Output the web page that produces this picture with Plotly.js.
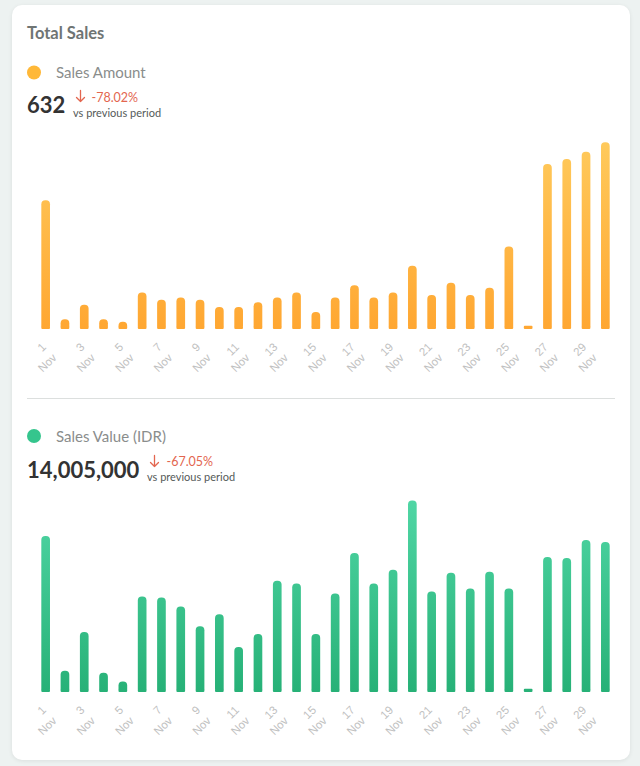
<!DOCTYPE html>
<html>
<head>
<meta charset="utf-8">
<script src="https://cdn.plot.ly/plotly-3.0.1.min.js"></script>
<style>
  html, body { margin: 0; padding: 0; width: 640px; height: 766px; overflow: hidden; background: #edf2f1; }
  .card { position: absolute; left: 12px; top: 5px; width: 618px; height: 755px; background: #ffffff;
          border-radius: 10px; box-shadow: 0 1px 4px rgba(0,0,0,0.08); }
  #header { position: absolute; left: 0; top: 0; width: 640px; height: 766px; pointer-events: none; }
  .chart { position: absolute; left: 0; width: 640px; }
  #amountChart { top: 120px; height: 260px; }
  #valueChart { top: 480px; height: 280px; }
</style>
</head>
<body>
<div class="card"></div>

<svg id="header" xmlns="http://www.w3.org/2000/svg" width="640" height="766">
  <g font-family="Lato, 'Open Sans', sans-serif">
    <text x="27" y="39" font-size="16.5" font-weight="700" fill="#6f7574">Total Sales</text>

    <!-- Sales Amount block -->
    <circle cx="34" cy="72.5" r="7" fill="#ffb838"/>
    <text x="56" y="78" font-size="15" fill="#8a8d8c">Sales Amount</text>
    <text x="27" y="113.3" font-size="22" font-weight="700" fill="#333333">632</text>
    <g stroke="#e3664f" stroke-width="1.3" fill="none" stroke-linecap="round" stroke-linejoin="round">
      <path d="M80.5 90.5 V101.5 M76.5 97.5 L80.5 101.5 L84.5 97.5"/>
    </g>
    <text x="91.5" y="102" font-size="12.5" fill="#e3664f">-78.02%</text>
    <text x="73" y="116.7" font-size="11" fill="#555a59">vs previous period</text>

    <line x1="27" y1="398.5" x2="615" y2="398.5" stroke="#dcdfde" stroke-width="1"/>

    <!-- Sales Value block -->
    <circle cx="34" cy="436" r="7" fill="#35c58d"/>
    <text x="56" y="441.5" font-size="15" fill="#8a8d8c">Sales Value (IDR)</text>
    <text x="27" y="478.3" font-size="22" font-weight="700" fill="#333333">14,005,000</text>
    <g stroke="#e3664f" stroke-width="1.3" fill="none" stroke-linecap="round" stroke-linejoin="round">
      <path d="M154.5 455.5 V466.5 M150.5 462.5 L154.5 466.5 L158.5 462.5"/>
    </g>
    <text x="166.5" y="465.5" font-size="12.5" fill="#e3664f">-67.05%</text>
    <text x="147" y="481" font-size="11" fill="#555a59">vs previous period</text>
  </g>
</svg>

<div id="amountChart" class="chart"></div>
<div id="valueChart" class="chart"></div>

<script>
// Days of November shown on the x axis
const days = [1, 2, 3, 4, 5, 6, 7, 8, 9, 10, 11, 12, 13, 14, 15,
              16, 17, 18, 19, 20, 21, 22, 23, 24, 25, 26, 27, 28, 29, 30];
const tickDays = [1, 3, 5, 7, 9, 11, 13, 15, 17, 19, 21, 23, 25, 27, 29];
const tickMonth = 'Nov';

// Daily number of sales
const salesAmount = [52, 3, 9, 3, 2, 14, 11, 12, 11, 8, 8, 10, 12, 14, 6,
                     12, 17, 12, 14, 25, 13, 18, 13, 16, 33, 0, 67, 69, 72, 76];

// Daily sales value in IDR
const salesValue = [775000, 95000, 290000, 85000, 40000, 470000, 465000, 420000, 320000, 380000,
                    215000, 280000, 550000, 535000, 280000, 485000, 690000, 535000, 605000, 955000,
                    495000, 590000, 510000, 595000, 510000, 0, 670000, 665000, 755000, 745000];

const tickText = tickDays.map(d => d + '<br>' + tickMonth);

// Draws one rounded-bar chart. A short companion bar hanging below zero rounds the foot of each bar.
function drawBars(divId, values, yMax, plotHeight, marginB, totalHeight, colors) {
  const footPx = 2.5;
  const overlapPx = 0.8;
  const unitsPerPx = yMax / (plotHeight - footPx);
  const foot = footPx * unitsPerPx;
  const overlap = overlapPx * unitsPerPx;

  const barStyle = { color: colors[1], cornerradius: '50%' };
  const traces = [
    { type: 'bar', x: days, y: values, marker: barStyle, hoverinfo: 'skip' },
    { type: 'bar', x: days, y: values.map(() => -(foot + overlap)), base: overlap,
      marker: barStyle, hoverinfo: 'skip' }
  ];

  const layout = {
    width: 640, height: totalHeight,
    margin: { l: 36, r: 25, t: 10, b: marginB },
    paper_bgcolor: 'rgba(0,0,0,0)', plot_bgcolor: 'rgba(0,0,0,0)',
    barmode: 'overlay', bargap: 0.55, showlegend: false,
    xaxis: {
      range: [0.5, 30.5], tickmode: 'array', tickvals: tickDays, ticktext: tickText,
      tickangle: -45, showgrid: false, zeroline: false, showline: false, ticks: '',
      ticklabelstandoff: 8, ticklabelshift: -3,
      tickfont: { family: 'Liberation Sans, Arial, sans-serif', size: 11.5, color: '#bfc1c1' }
    },
    yaxis: { range: [-foot, yMax], visible: false, showgrid: false, zeroline: false }
  };

  return Plotly.newPlot(divId, traces, layout, { staticPlot: true, displayModeBar: false })
    .then(gd => {
      // vertical colour ramp over the plot area, lighter towards the top
      const ns = 'http://www.w3.org/2000/svg';
      const h = gd._fullLayout._size.h;
      const svg = gd.querySelector('svg.main-svg');
      const defs = svg.querySelector('defs');
      const grad = document.createElementNS(ns, 'linearGradient');
      const gid = divId + '-ramp';
      grad.setAttribute('id', gid);
      grad.setAttribute('gradientUnits', 'userSpaceOnUse');
      grad.setAttribute('x1', 0); grad.setAttribute('x2', 0);
      grad.setAttribute('y1', 0); grad.setAttribute('y2', h);
      [[0, colors[0]], [1, colors[1]]].forEach(([o, c]) => {
        const s = document.createElementNS(ns, 'stop');
        s.setAttribute('offset', o);
        s.setAttribute('stop-color', c);
        grad.appendChild(s);
      });
      defs.appendChild(grad);
      gd.querySelectorAll('.barlayer .point path').forEach(p => { p.style.fill = 'url(#' + gid + ')'; });
    });
}

drawBars('amountChart', salesAmount, 81, 199, 51, 260, ['#ffcc5e', '#ffa732']);
drawBars('valueChart', salesValue, 1008000, 202, 68, 280, ['#52d8a7', '#27b177']);
</script>
</body>
</html>
